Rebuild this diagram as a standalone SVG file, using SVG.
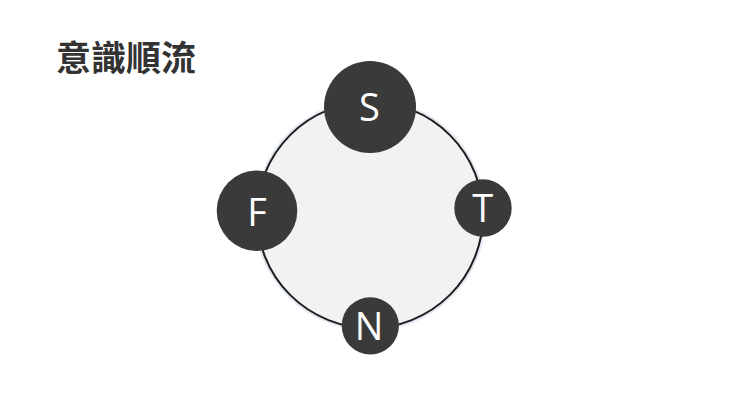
<svg xmlns="http://www.w3.org/2000/svg" width="740" height="416" viewBox="0 0 740 416">
<style>
.node{fill:#3a3a3a;}
.lbl{font-family:"Open Sans","Noto Sans",sans-serif;font-size:38px;fill:#ffffff;text-anchor:middle;}
.title{font-family:"Noto Sans CJK TC","Noto Sans CJK SC",sans-serif;font-weight:700;font-size:35px;fill:#333333;}
</style>
<rect width="740" height="416" fill="#ffffff"/>
<text class="title" x="56" y="70.5">意識順流</text>
<g id="connectors">
<circle cx="370" cy="215" r="114.5" fill="none" stroke="#e3e9f2" stroke-width="3"/>
<circle cx="370" cy="215" r="113" fill="#f2f2f2" stroke="#1e1e1e" stroke-width="2"/>
</g>
<g id="node-S"><circle class="node" cx="370" cy="107" r="46"/><text class="lbl" x="369.5" y="121">S</text></g>
<g id="node-T"><circle class="node" cx="483" cy="208" r="28.7"/><text class="lbl" x="482.7" y="222">T</text></g>
<g id="node-F"><circle class="node" cx="257" cy="210.7" r="40.3"/><text class="lbl" x="257" y="226">F</text></g>
<g id="node-N"><circle class="node" cx="370.3" cy="325.8" r="28.6"/><text class="lbl" x="369" y="340">N</text></g>
</svg>
